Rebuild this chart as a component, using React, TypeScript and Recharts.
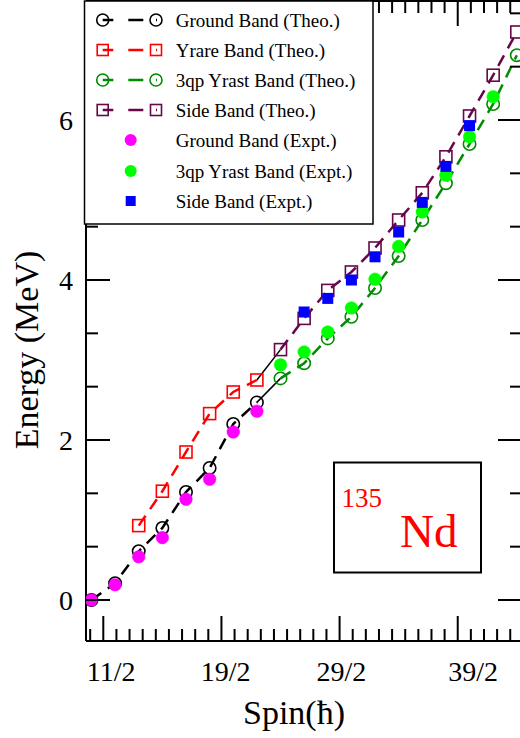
import React from 'react';
import { ComposedChart, Line, Scatter, XAxis, YAxis } from 'recharts';

// ---------- data (spin positions along x, energies in MeV) ----------
const groundSpins = [4.5, 5.5, 6.5, 7.5, 8.5, 9.5, 10.5, 11.5];
const groundTheo = [0, 0.21, 0.61, 0.9, 1.35, 1.65, 2.2, 2.47];
const groundExpt = [0, 0.19, 0.54, 0.78, 1.26, 1.51, 2.1, 2.36];

const yrareSpins = [6.5, 7.5, 8.5, 9.5, 10.5, 11.5];
const yrareTheo = [0.93, 1.36, 1.85, 2.33, 2.6, 2.75];

const upperSpins = [12.5, 13.5, 14.5, 15.5, 16.5, 17.5, 18.5, 19.5, 20.5, 21.5, 22.5];
const yrast3qpTheo = [2.77, 2.96, 3.27, 3.54, 3.9, 4.3, 4.75, 5.21, 5.7, 6.2, 6.81];
const sideTheo = [3.13, 3.52, 3.87, 4.1, 4.4, 4.75, 5.09, 5.54, 6.05, 6.56, 7.1];

const yrast3qpExptSpins = [12.5, 13.5, 14.5, 15.5, 16.5, 17.5, 18.5, 19.5, 20.5, 21.5];
const yrast3qpExpt = [2.94, 3.1, 3.35, 3.65, 4.01, 4.42, 4.85, 5.31, 5.79, 6.29];

const sideExptSpins = [13.5, 14.5, 15.5, 16.5, 17.5, 18.5, 19.5, 20.5];
const sideExpt = [3.6, 3.77, 4.0, 4.29, 4.6, 4.97, 5.42, 5.93];

const xTickLabels = ['11/2', '19/2', '29/2', '39/2'];
const xTickLabelAt = [5.33, 10.18, 15.08, 20.65];
const yTickValues = [0, 2, 4, 6];
const yTickLabels = ['0', '2', '4', '6'];

const legendItems = [
  { name: 'Ground Band (Theo.)', kind: 'theo', shape: 'circle', color: '#000000' },
  { name: 'Yrare Band (Theo.)', kind: 'theo', shape: 'square', color: '#ff0000' },
  { name: '3qp Yrast Band (Theo.)', kind: 'theo', shape: 'circle', color: '#008b00' },
  { name: 'Side Band (Theo.)', kind: 'theo', shape: 'square', color: '#670748' },
  { name: 'Ground Band (Expt.)', kind: 'expt', shape: 'circle', color: '#ff00ff' },
  { name: '3qp Yrast Band (Expt.)', kind: 'expt', shape: 'circle', color: '#00ff00' },
  { name: 'Side Band (Expt.)', kind: 'expt', shape: 'square', color: '#0000ff' },
];

// ---------- helpers ----------
const zip = (xs: number[], ys: number[]) => xs.map((s, i) => ({ s, e: ys[i] }));

const groundTheoData = zip(groundSpins, groundTheo);
const groundExptData = zip(groundSpins, groundExpt);
const yrareTheoData = zip(yrareSpins, yrareTheo);
const yrast3qpTheoData = zip(upperSpins, yrast3qpTheo);
const sideTheoData = zip(upperSpins, sideTheo);
const yrast3qpExptData = zip(yrast3qpExptSpins, yrast3qpExpt);
const sideExptData = zip(sideExptSpins, sideExpt);
const link1 = [groundTheoData[groundTheoData.length - 1], yrast3qpTheoData[0]];
const link2 = [yrareTheoData[yrareTheoData.length - 1], sideTheoData[0]];

const FONT = '"Liberation Serif", "Times New Roman", Times, serif';
const xDomain: [number, number] = [4.268, 22.72];
const yDomain: [number, number] = [-0.5125, 7.4875];

const xTicks: number[] = [];
for (let k = -1; k <= 31; k++) xTicks.push(+(5 + (k * 5) / 9).toFixed(4));
const yTicks: number[] = [];
for (let k = 0; k <= 11; k++) yTicks.push(+((k * 2) / 3).toFixed(4));

const isXMajor = (v: number) => Math.abs(v - Math.round(v / 5) * 5) < 1e-3;
const isYMajor = (v: number) => Math.abs(v - Math.round(v / 2) * 2) < 1e-3;

const renderBottomTick = (p: any) => {
  const v = p.payload.value;
  const li = xTickLabelAt.findIndex((q) => Math.abs(q - v) < 1e-6);
  if (li >= 0) {
    return (
      <text key={`bl${li}`} x={p.x} y={p.y + 40} textAnchor="middle" fontSize={28} fontFamily={FONT} fill="#000">
        {xTickLabels[li]}
      </text>
    );
  }
  const len = isXMajor(v) ? 25 : 12;
  return <line key={`b${v}`} x1={p.x} y1={p.y} x2={p.x} y2={p.y - len} stroke="#000" strokeWidth={2} />;
};

const renderTopTick = (p: any) => {
  const v = p.payload.value;
  const len = isXMajor(v) ? 25 : 12;
  return <line key={`t${v}`} x1={p.x} y1={p.y} x2={p.x} y2={p.y + len} stroke="#000" strokeWidth={2} />;
};

const renderLeftTick = (p: any) => {
  const v = p.payload.value;
  const major = isYMajor(v);
  const li = yTickValues.findIndex((q) => Math.abs(q - v) < 1e-6);
  return (
    <g key={`l${v}`}>
      <line x1={p.x} y1={p.y} x2={p.x + (major ? 24 : 12)} y2={p.y} stroke="#000" strokeWidth={2} />
      {li >= 0 && (
        <text x={p.x - 13} y={p.y + 9.5} textAnchor="end" fontSize={28} fontFamily={FONT} fill="#000">
          {yTickLabels[li]}
        </text>
      )}
    </g>
  );
};

const renderRightTick = (p: any) => {
  const v = p.payload.value;
  const len = isYMajor(v) ? 24 : 12;
  return <line key={`r${v}`} x1={p.x} y1={p.y} x2={p.x - len} y2={p.y} stroke="#000" strokeWidth={2} />;
};

const openCircle = (color: string) => (p: any) =>
  p.cx == null ? <g key={`oc${p.index}`} /> : (
    <circle key={`oc${p.index}`} cx={p.cx} cy={p.cy} r={6.2} fill="none" stroke={color} strokeWidth={1.6} />
  );
const openSquare = (color: string) => (p: any) =>
  p.cx == null ? <g key={`os${p.index}`} /> : (
    <rect key={`os${p.index}`} x={p.cx - 6} y={p.cy - 6} width={12} height={12} fill="none" stroke={color} strokeWidth={1.6} />
  );
const filledCircle = (color: string) => (p: any) => (
  <circle cx={p.cx} cy={p.cy} r={6.3} fill={color} stroke={color} strokeWidth={0.5} />
);
const filledSquare = (color: string) => (p: any) => (
  <rect x={p.cx - 5.5} y={p.cy - 5.5} width={11} height={11} fill={color} />
);

const Overlay = () => {
  const rowY = [20, 50, 80, 110, 140, 171, 201];
  return (
    <svg width={520} height={738} style={{ position: 'absolute', left: 0, top: 0, pointerEvents: 'none' }}>
      <rect x={84.5} y={1} width={288.5} height={223} fill="#fff" stroke="#000" strokeWidth={1.5} />
      {legendItems.map((it, i) => {
        const y = rowY[i];
        let sym: React.ReactNode;
        if (it.kind === 'theo') {
          const mk = (cx: number) =>
            it.shape === 'circle' ? (
              <circle cx={cx} cy={y} r={6} fill="none" stroke={it.color} strokeWidth={1.6} />
            ) : (
              <rect x={cx - 5.5} y={y - 5.5} width={11} height={11} fill="none" stroke={it.color} strokeWidth={1.6} />
            );
          sym = (
            <g>
              <line x1={102.7} y1={y} x2={157} y2={y} stroke={it.color} strokeWidth={2.5} strokeDasharray="10.6 15 15 12.7 1.5 100" />
              {mk(102.7)}
              {mk(156)}
            </g>
          );
        } else {
          sym =
            it.shape === 'circle' ? (
              <circle cx={130.7} cy={y} r={6} fill={it.color} />
            ) : (
              <rect x={125.7} y={y - 5} width={10} height={10} fill={it.color} />
            );
        }
        return (
          <g key={it.name}>
            {sym}
            <text x={175.7} y={y + 6.5} fontSize={19} fontFamily={FONT} fill="#000">
              {it.name}
            </text>
          </g>
        );
      })}
      <rect x={334} y={462.5} width={147} height={110} fill="#fff" stroke="#000" strokeWidth={2} />
      <text x={341.5} y={507} fontSize={27} fontFamily={FONT} fill="#ff0000">135</text>
      <text x={400} y={547} fontSize={47} fontFamily={FONT} fill="#ff0000">Nd</text>
      <text x={294} y={724} textAnchor="middle" fontSize={34} fontFamily={FONT} fill="#000">Spin(ħ)</text>
      <text transform="translate(38,350) rotate(-90)" textAnchor="middle" fontSize={34} fontFamily={FONT} fill="#000">
        Energy (MeV)
      </text>
    </svg>
  );
};

export default function App() {
  const axisLine = { stroke: '#000', strokeWidth: 2 };
  return (
    <div style={{ position: 'absolute', left: 0, top: 0, width: 520, height: 738, overflow: 'hidden', background: '#fff' }}>
      <ComposedChart width={524} height={738} margin={{ top: 0, right: 0, bottom: 0, left: 0 }}>
        <XAxis xAxisId="b" orientation="bottom" type="number" dataKey="s" domain={xDomain} allowDataOverflow
          ticks={[...xTicks, ...xTickLabelAt]} interval={0} tickSize={0} tickMargin={0} tickLine={false}
          axisLine={axisLine} height={97} tick={renderBottomTick} />
        <XAxis xAxisId="t" orientation="top" type="number" dataKey="s" domain={xDomain} allowDataOverflow
          ticks={xTicks} interval={0} tickSize={0} tickMargin={0} tickLine={false}
          axisLine={axisLine} height={1} tick={renderTopTick} />
        <YAxis yAxisId="l" orientation="left" type="number" dataKey="e" domain={yDomain} allowDataOverflow
          ticks={yTicks} interval={0} tickSize={0} tickMargin={0} tickLine={false}
          axisLine={axisLine} width={86} tick={renderLeftTick} />
        <YAxis yAxisId="r" orientation="right" type="number" dataKey="e" domain={yDomain} allowDataOverflow
          ticks={yTicks} interval={0} tickSize={0} tickMargin={0} tickLine={false}
          axisLine={axisLine} width={2} tick={renderRightTick} />

        <Line xAxisId="t" yAxisId="r" data={link1} dataKey="e" stroke="none" dot={false} activeDot={false} isAnimationActive={false} />

        <Line xAxisId="b" yAxisId="l" data={link1} dataKey="e" stroke="#000" strokeWidth={1.5} dot={false} activeDot={false} isAnimationActive={false} />
        <Line xAxisId="b" yAxisId="l" data={link2} dataKey="e" stroke="#000" strokeWidth={1.5} dot={false} activeDot={false} isAnimationActive={false} />

        <Line xAxisId="b" yAxisId="l" data={groundTheoData} dataKey="e" stroke="#000" strokeWidth={2.5} strokeDasharray="12 8"
          dot={openCircle('#000')} activeDot={false} isAnimationActive={false} />
        <Line xAxisId="b" yAxisId="l" data={yrareTheoData} dataKey="e" stroke="#ff0000" strokeWidth={2.5} strokeDasharray="12 8"
          dot={openSquare('#ff0000')} activeDot={false} isAnimationActive={false} />
        <Line xAxisId="b" yAxisId="l" data={yrast3qpTheoData} dataKey="e" stroke="#008b00" strokeWidth={2.5} strokeDasharray="12 8"
          dot={openCircle('#008b00')} activeDot={false} isAnimationActive={false} />
        <Line xAxisId="b" yAxisId="l" data={sideTheoData} dataKey="e" stroke="#670748" strokeWidth={2.5} strokeDasharray="12 8"
          dot={openSquare('#670748')} activeDot={false} isAnimationActive={false} />

        <Scatter xAxisId="b" yAxisId="l" data={groundExptData} dataKey="e" shape={filledCircle('#ff00ff')} isAnimationActive={false} />
        <Scatter xAxisId="b" yAxisId="l" data={yrast3qpExptData} dataKey="e" shape={filledCircle('#00ff00')} isAnimationActive={false} />
        <Scatter xAxisId="b" yAxisId="l" data={sideExptData} dataKey="e" shape={filledSquare('#0000ff')} isAnimationActive={false} />
      </ComposedChart>
      <Overlay />
    </div>
  );
}
